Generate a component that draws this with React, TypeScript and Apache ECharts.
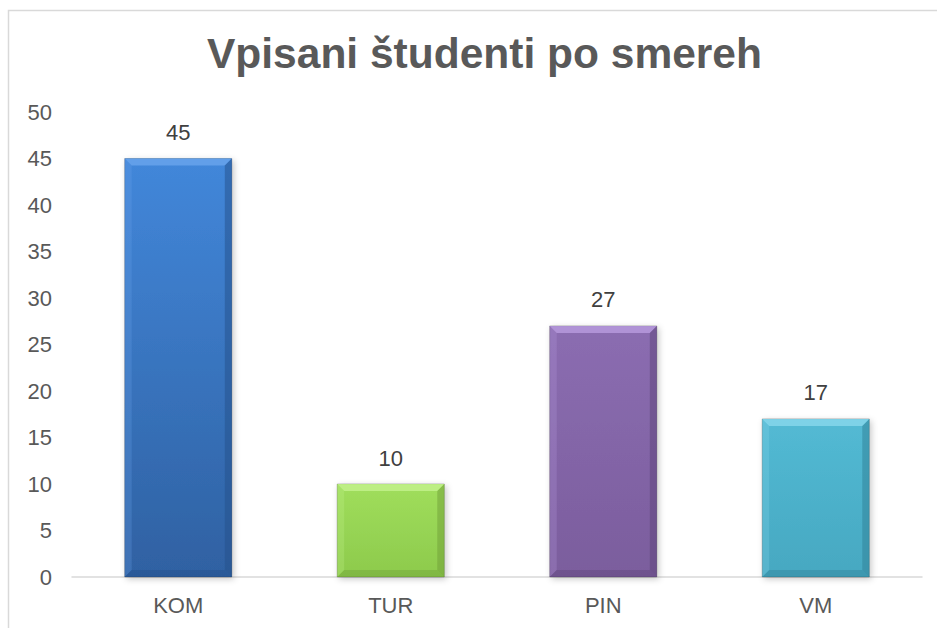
import React, { useEffect, useRef } from "react";
import * as echarts from "echarts";

const title = "Vpisani študenti po smereh";
const categories = ["KOM", "TUR", "PIN", "VM"];
const values = [45, 10, 27, 17];
const yTicks = [0, 5, 10, 15, 20, 25, 30, 35, 40, 45, 50];

// per-bar styling: [faceTop, faceBottom, bevelLight, bevelDark]
const palettes = [
  ["#4287da", "#2f61a2", "#6aa5ec", "#24508a"],
  ["#a0de5c", "#8dca4c", "#c4f28e", "#6f9e38"],
  ["#8b6db1", "#7b5d9d", "#b99ce0", "#5d4479"],
  ["#53bad4", "#46a8c1", "#8ad8ec", "#2f8096"],
];

export default function App() {
  const ref = useRef<HTMLDivElement>(null);
  useEffect(() => {
    if (!ref.current) return;
    const chart = echarts.init(ref.current, null, { renderer: "svg" });
    const font = "Liberation Sans, Arial, sans-serif";
    chart.setOption({
      animation: false,
      backgroundColor: "#ffffff",
      title: {
        text: title,
        left: 202,
        top: 27,
        textStyle: { fontFamily: font, fontSize: 42.5, fontWeight: "bold", color: "#595959" },
      },
      graphic: [
        {
          type: "rect",
          shape: { x: 8.5, y: 10.5, width: 1200, height: 1200 },
          style: { fill: "none", stroke: "#d9d9d9", lineWidth: 1.5 },
          silent: true,
          z: -10,
        },
      ],
      grid: { left: 72, right: 15, top: 112, bottom: 51, containLabel: false },
      xAxis: {
        type: "category",
        data: categories,
        axisLine: { show: true, lineStyle: { color: "#d9d9d9", width: 1.5 } },
        axisTick: { show: false },
        axisLabel: { fontFamily: font, fontSize: 22, color: "#595959", margin: 17 },
      },
      yAxis: {
        type: "value",
        min: yTicks[0],
        max: yTicks[yTicks.length - 1],
        interval: 5,
        axisLine: { show: false },
        axisTick: { show: false },
        splitLine: { show: false },
        axisLabel: { fontFamily: font, fontSize: 22, color: "#595959", margin: 20 },
      },
      series: [
        {
          type: "custom",
          data: values.map((v, i) => [i, v]),
          renderItem: (params: any, api: any) => {
            const idx = api.value(0);
            const val = api.value(1);
            const top = api.coord([idx, val]);
            const base = api.coord([idx, 0]);
            const band = api.size([1, 0])[0];
            const w = band * 0.504;
            const x0 = top[0] - w / 2;
            const x1 = top[0] + w / 2;
            const y0 = top[1];
            const y1 = base[1];
            const b = 7;
            const p = palettes[idx % palettes.length];
            return {
              type: "group",
              children: [
                {
                  type: "rect",
                  shape: { x: x0, y: y0, width: w, height: y1 - y0 },
                  style: {
                    fill: new echarts.graphic.LinearGradient(0, 0, 0, 1, [
                      { offset: 0, color: p[0] },
                      { offset: 1, color: p[1] },
                    ]),
                    stroke: "rgba(0,0,0,0.22)",
                    lineWidth: 1,
                    shadowBlur: 6,
                    shadowOffsetX: 2,
                    shadowOffsetY: 2,
                    shadowColor: "rgba(0,0,0,0.22)",
                  },
                },
                {
                  type: "polygon",
                  shape: { points: [[x0, y0], [x1, y0], [x1 - b, y0 + b], [x0 + b, y0 + b]] },
                  style: { fill: p[2], opacity: 0.8 },
                },
                {
                  type: "polygon",
                  shape: { points: [[x0, y0], [x0 + b, y0 + b], [x0 + b, y1 - b], [x0, y1]] },
                  style: { fill: p[2], opacity: 0.25 },
                },
                {
                  type: "polygon",
                  shape: { points: [[x1, y0], [x1, y1], [x1 - b, y1 - b], [x1 - b, y0 + b]] },
                  style: { fill: p[3], opacity: 0.5 },
                },
                {
                  type: "polygon",
                  shape: { points: [[x0, y1], [x1, y1], [x1 - b, y1 - b], [x0 + b, y1 - b]] },
                  style: { fill: p[3], opacity: 0.4 },
                },
                {
                  type: "text",
                  style: {
                    text: String(val),
                    x: top[0],
                    y: y0 - 15,
                    textAlign: "center",
                    textVerticalAlign: "bottom",
                    fontFamily: font,
                    fontSize: 22,
                    fill: "#404040",
                  },
                },
              ],
            };
          },
        },
      ],
    });
    return () => chart.dispose();
  }, []);
  return <div ref={ref} style={{ width: 937, height: 628, position: "absolute", left: 0, top: 0 }} />;
}
